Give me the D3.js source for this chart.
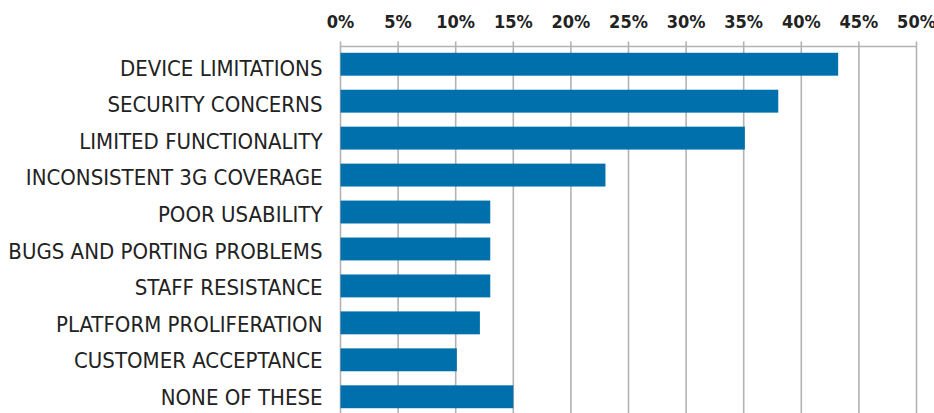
<!DOCTYPE html>
<html>
<head>
<meta charset="utf-8">
<script src="https://cdn.jsdelivr.net/npm/d3@7"></script>
<style>
  body { margin: 0; background: #fff; }
  text { font-family: "Liberation Sans Narrow", "DejaVu Sans Condensed", "Roboto", sans-serif; }
</style>
</head>
<body>
<svg id="chart" width="934" height="413"></svg>
<script>
const categories = [
  'DEVICE LIMITATIONS',
  'SECURITY CONCERNS',
  'LIMITED FUNCTIONALITY',
  'INCONSISTENT 3G COVERAGE',
  'POOR USABILITY',
  'BUGS AND PORTING PROBLEMS',
  'STAFF RESISTANCE',
  'PLATFORM PROLIFERATION',
  'CUSTOMER ACCEPTANCE',
  'NONE OF THESE'
];
const values = [43.2, 38, 35.1, 23, 13, 13, 13, 12.1, 10.1, 15];
const tickValues = [0, 5, 10, 15, 20, 25, 30, 35, 40, 45, 50];

const svg = d3.select('#chart');
const width = +svg.attr('width');
const height = +svg.attr('height');

const margin = { top: 46.5, right: 17.5, bottom: 0, left: 340.5 };
const innerWidth = width - margin.left - margin.right;
const innerHeight = height - margin.top - margin.bottom;

const xScale = d3.scaleLinear()
    .domain([0, 50])
    .range([0, innerWidth]);

const yScale = d3.scaleBand()
    .domain(categories)
    .range([0, 368])
    .paddingInner(0.38)
    .paddingOuter(0.17);

// label baselines spread a bit tighter than the bars
const labelScale = d3.scalePoint()
    .domain(categories)
    .range([29, 358.5]);

const g = svg.append('g')
    .attr('transform', 'translate(' + margin.left + ',' + margin.top + ')');

// gridlines
g.selectAll('.grid')
    .data(tickValues)
    .enter()
    .append('line')
    .attr('x1', d => xScale(d))
    .attr('x2', d => xScale(d))
    .attr('y1', -5)
    .attr('y2', innerHeight)
    .style('stroke', '#b3b3b3')
    .style('stroke-width', 1.6);

g.append('line')
    .attr('x1', 0)
    .attr('x2', innerWidth)
    .attr('y1', 0)
    .attr('y2', 0)
    .style('stroke', '#b3b3b3')
    .style('stroke-width', 1.6);

// top tick labels
g.selectAll('.tick-label')
    .data(tickValues)
    .enter()
    .append('text')
    .attr('x', d => xScale(d))
    .attr('y', -18.5)
    .style('text-anchor', 'middle')
    .style('font-size', '18px')
    .style('font-weight', 'bold')
    .style('fill', '#222')
    .text(d => d + '%');

// bars
g.selectAll('rect')
    .data(values)
    .enter()
    .append('rect')
    .attr('x', 0)
    .attr('y', (d, i) => yScale(categories[i]))
    .attr('width', d => xScale(d))
    .attr('height', yScale.bandwidth())
    .style('fill', '#0070ad');

// category labels
g.selectAll('.cat')
    .data(categories)
    .enter()
    .append('text')
    .attr('x', -18)
    .attr('y', d => labelScale(d))
    .style('text-anchor', 'end')
    .style('font-size', '22px')
    .style('fill', '#222')
    .text(d => d);
</script>
</body>
</html>
